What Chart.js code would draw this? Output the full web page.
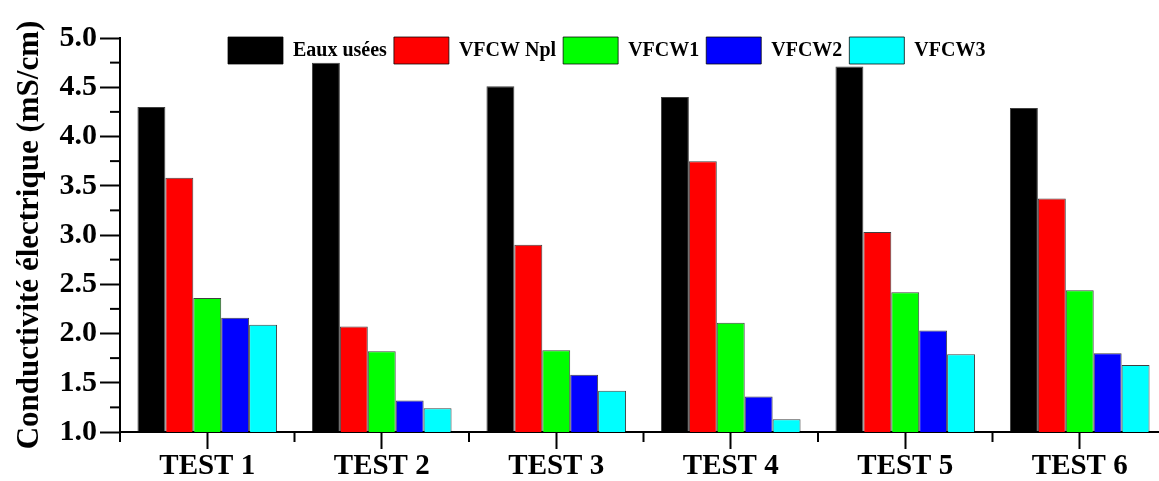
<!DOCTYPE html>
<html>
<head>
<meta charset="utf-8">
<script src="https://cdn.jsdelivr.net/npm/chart.js@4/dist/chart.umd.min.js"></script>
<style>
  html, body { margin: 0; padding: 0; background: #fff; overflow: hidden; }
  #outer { width: 1159px; height: 481px; overflow: hidden; position: relative; }
  #wrap { width: 1168px; height: 481px; position: absolute; left: 0; top: 0; }
</style>
</head>
<body>
<div id="outer"><div id="wrap"><canvas id="c"></canvas></div></div>
<script>
const categories = ['TEST 1', 'TEST 2', 'TEST 3', 'TEST 4', 'TEST 5', 'TEST 6'];
const seriesNames = ['Eaux usées', 'VFCW Npl', 'VFCW1', 'VFCW2', 'VFCW3'];
const eauxUsees = [4.30, 4.75, 4.51, 4.40, 4.71, 4.29];
const vfcwNpl   = [3.58, 2.07, 2.90, 3.75, 3.03, 3.37];
const vfcw1     = [2.36, 1.82, 1.83, 2.11, 2.42, 2.44];
const vfcw2     = [2.16, 1.32, 1.58, 1.36, 2.03, 1.80];
const vfcw3     = [2.09, 1.24, 1.42, 1.13, 1.79, 1.68];
const yTitle = 'Conductivité électrique (mS/cm)';

const colors = ['#000000', '#ff0000', '#00ff00', '#0000ff', '#00ffff'];
const values = [eauxUsees, vfcwNpl, vfcw1, vfcw2, vfcw3];

const FONT = "'Liberation Serif', 'Times New Roman', serif";
const PLOT_TOP = 38;

const minorTicks = {
  id: 'minorTicks',
  afterDraw(chart) {
    const {ctx, chartArea, scales: {x, y}} = chart;
    ctx.save();
    ctx.strokeStyle = '#000';
    ctx.lineWidth = 2;
    const yt = y.ticks;
    for (let i = 0; i < yt.length - 1; i++) {
      const py = y.getPixelForValue((yt[i].value + yt[i + 1].value) / 2);
      ctx.beginPath();
      ctx.moveTo(chartArea.left - 10, py);
      ctx.lineTo(chartArea.left, py);
      ctx.stroke();
    }
    for (let i = 0; i <= categories.length; i++) {
      const px = x.getPixelForValue(i - 0.5);
      ctx.beginPath();
      ctx.moveTo(px, chartArea.bottom);
      ctx.lineTo(px, chartArea.bottom + 10);
      ctx.stroke();
    }
    ctx.restore();
  }
};

// legend sits inside the plot area, in one row, like the reference
const legendInside = {
  id: 'legendInside',
  beforeLayout(chart) {
    const lg = chart.legend;
    if (lg && !lg._patchedFit) {
      const orig = lg.fit.bind(lg);
      lg.fit = function () { orig(); this.height = PLOT_TOP; };
      lg._patchedFit = true;
    }
  },
  afterUpdate(chart) {
    const lg = chart.legend;
    if (!lg) return;
    const pad = lg.options.labels.padding;
    lg.left = 228 - pad;
    lg.top = 37 - pad;
    lg.right = chart.width;
    lg.bottom = lg.top + 60;
    lg.width = lg.right - lg.left;
    lg.height = lg.bottom - lg.top;
  }
};

new Chart(document.getElementById('c'), {
  type: 'bar',
  data: {
    labels: categories,
    datasets: seriesNames.map((name, i) => ({
      label: name,
      data: values[i],
      backgroundColor: colors[i],
      borderColor: 'rgba(0,0,0,0.75)',
      borderWidth: 1,
      borderSkipped: false,
      categoryPercentage: 0.8,
      barPercentage: 1.0
    }))
  },
  options: {
    responsive: true,
    maintainAspectRatio: false,
    animation: false,
    devicePixelRatio: 1,
    layout: { padding: { top: 0, right: 1, left: 0, bottom: 0 } },
    plugins: {
      tooltip: { enabled: false },
      legend: {
        position: 'top',
        align: 'start',
        labels: {
          color: '#000',
          font: { family: FONT, size: 20, weight: 'bold' },
          boxWidth: 55,
          boxHeight: 27,
          padding: 7
        }
      }
    },
    scales: {
      x: {
        afterFit(scale) { scale.height = 49; },
        border: { display: true, color: '#000', width: 2 },
        grid: { display: true, offset: false, drawOnChartArea: false, drawTicks: true, tickLength: 17, tickWidth: 2, tickColor: '#000' },
        ticks: { color: '#000', padding: 0, font: { family: FONT, size: 29, weight: 'bold' }, maxRotation: 0 }
      },
      y: {
        min: 1.0,
        max: 5.0,
        afterFit(scale) { scale.width = 120; },
        border: { display: true, color: '#000', width: 2 },
        grid: { display: true, drawOnChartArea: false, drawTicks: true, tickLength: 20, tickWidth: 2, tickColor: '#000' },
        ticks: {
          stepSize: 0.5,
          color: '#000',
          padding: 3,
          font: { family: FONT, size: 30, weight: 'bold' },
          callback: (v) => Number(v).toFixed(1)
        },
        title: {
          display: true,
          text: yTitle,
          color: '#000',
          padding: { top: 11, bottom: 0 },
          font: { family: FONT, size: 31, weight: 'bold' }
        }
      }
    }
  },
  plugins: [minorTicks, legendInside]
});
</script>
</body>
</html>
